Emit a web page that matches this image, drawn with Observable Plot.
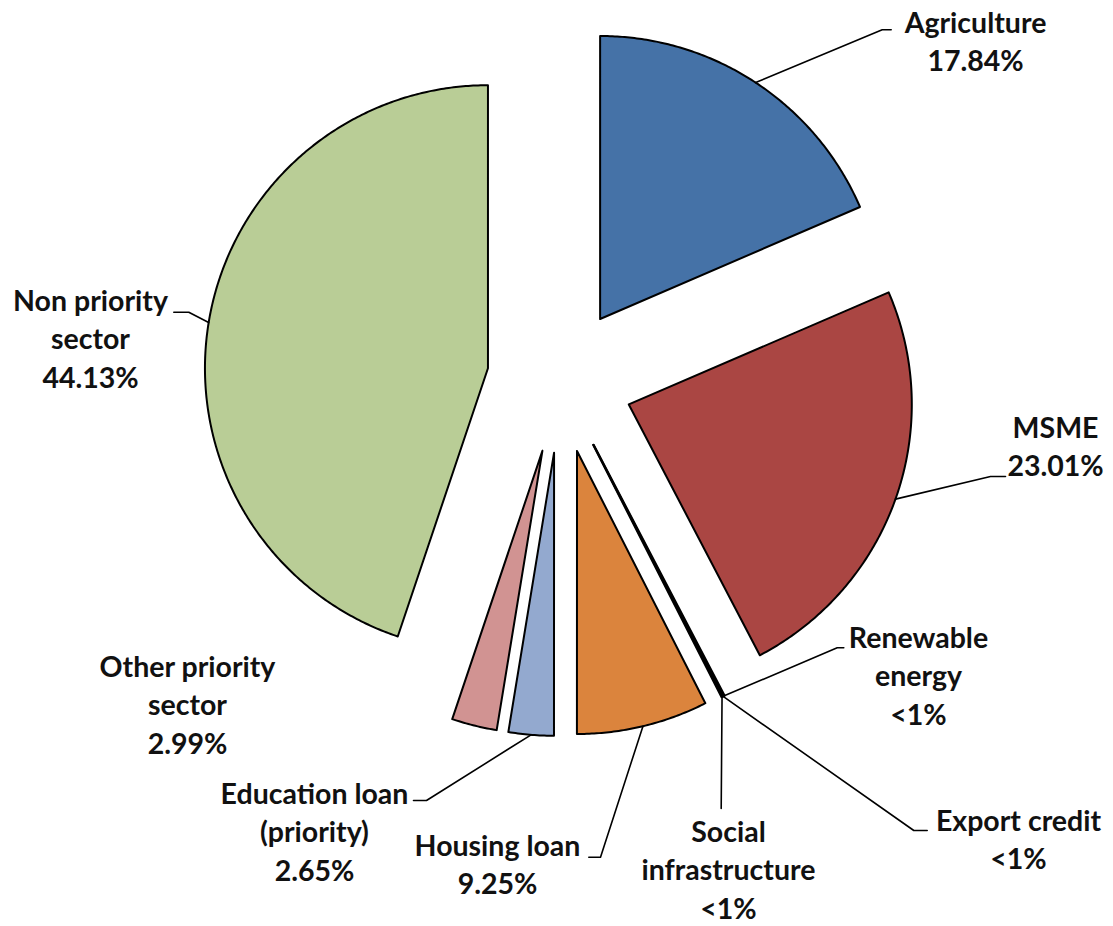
<!DOCTYPE html>
<html><head><meta charset="utf-8">
<script src="https://cdn.jsdelivr.net/npm/d3@7"></script>
<script src="https://cdn.jsdelivr.net/npm/@observablehq/plot@0.6"></script>
<style>html,body{margin:0;padding:0;background:#fff;}</style>
</head><body><div id="chart"></div>
<script>
// ---- data ----
const categories = ["Agriculture","MSME","Renewable energy","Export credit","Social infrastructure","Housing loan","Education loan (priority)","Other priority sector","Non priority sector"];
// slice sizes as drawn in the picture (share of the pie, %)
const shares = [18.53, 23.83, 0.06, 0.05, 0.06, 7.50, 2.58, 2.58, 44.86];
// printed data labels
const labelLines = [
  ["Agriculture","17.84%"],
  ["MSME","23.01%"],
  ["Renewable","energy","<1%"],
  ["Export credit","<1%"],
  ["Social","infrastructure","<1%"],
  ["Housing loan","9.25%"],
  ["Education loan","(priority)","2.65%"],
  ["Other priority","sector","2.99%"],
  ["Non priority","sector","44.13%"]
];
const colors = ["#4572A7","#AA4643","#89A54E","#71588F","#4198AF","#DB843D","#93A9CF","#D19392","#B9CD96"];

// ---- layout (pixels) ----
const W = 1113, H = 926;
const center = [559.5, 379.5], radius = 283, explode = 73;
const labelAnchor = [[975,32],[1055,437],[918,647],[1018,830],[728,841],[497,855],[314,803],[187,676],[90,310]];
const lineStep = 38.5;
// leader line: [elbow, end] or null
const leaders = [
  [[881.7,29.3],[890.7,29.3]],
  [[990,476],[1005,476]],
  [[836.7,647.3],[843.3,647.3]],
  [[913.3,830],[926.7,830]],
  [[720.7,808],[720.7,808]],
  [[600,856.7],[588.3,856.7]],
  [[426,800],[413,800]],
  null,
  [[188.3,311.7],[173.3,311.7]]
];

// ---- geometry ----
const arcs = d3.pie().sort(null).value(d => d)(shares);
const slices = [];
const leaderRows = [];
arcs.forEach((a, i) => {
  const cat = categories[i];
  const mid = (a.startAngle + a.endAngle) / 2;
  const ox = center[0] + explode * Math.sin(mid);
  const oy = center[1] - explode * Math.cos(mid);
  const pt = t => ({cat, x: ox + radius * Math.sin(t), y: oy - radius * Math.cos(t)});
  slices.push({cat, x: ox, y: oy});
  const n = Math.max(2, Math.ceil((a.endAngle - a.startAngle) / (Math.PI / 360)));
  for (let k = 0; k <= n; k++) slices.push(pt(a.startAngle + (a.endAngle - a.startAngle) * k / n));
  slices.push({cat, x: ox, y: oy});
  if (leaders[i]) {
    const s = pt(mid);
    leaderRows.push({cat, x: s.x, y: s.y});
    leaderRows.push({cat, x: leaders[i][0][0], y: leaders[i][0][1]});
    leaderRows.push({cat, x: leaders[i][1][0], y: leaders[i][1][1]});
  }
});
const textRows = [];
labelLines.forEach((lines, i) => {
  lines.forEach((t, j) => textRows.push({text: t, x: labelAnchor[i][0], y: labelAnchor[i][1] + j * lineStep}));
});

const chart = Plot.plot({
  width: W, height: H, margin: 0,
  x: {domain: [0, W], range: [0, W], axis: null},
  y: {domain: [0, H], range: [0, H], axis: null},
  color: {domain: categories, range: colors},
  marks: [
    Plot.line(slices, {x: "x", y: "y", z: "cat", fill: "cat", stroke: "#000", strokeWidth: 2, strokeLinejoin: "round"}),
    Plot.line(leaderRows, {x: "x", y: "y", z: "cat", stroke: "#000", strokeWidth: 1.6}),
    Plot.text(textRows, {x: "x", y: "y", text: "text", textAnchor: "middle", lineAnchor: "bottom",
      fontSize: 28.5, fontWeight: "bold", fontFamily: "Lato", fill: "#111"})
  ]
});
document.getElementById("chart").appendChild(chart);
</script>
</body></html>
